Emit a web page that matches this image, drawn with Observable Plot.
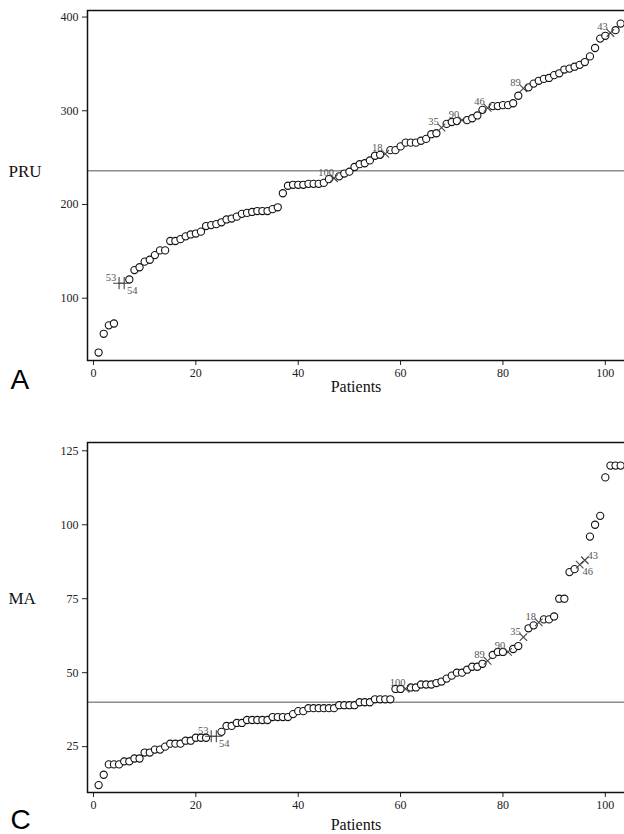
<!DOCTYPE html>
<html><head><meta charset="utf-8">
<script src="https://cdn.jsdelivr.net/npm/d3@7"></script>
<script src="https://cdn.jsdelivr.net/npm/@observablehq/plot@0.6"></script>
<style>
html,body{margin:0;padding:0;background:#fff;overflow:hidden;width:624px;height:834px}
.panel{width:640px;height:auto;line-height:0}
</style></head><body>
<div id="panelA" class="panel"></div>
<div id="panelC" class="panel"></div>
<script>
// PRU values, sorted by patient rank (1..103)
const pruValues = [42,62,71,73,116,116,120,130,133,139,141,146,151,151,161,161,163,166,168,169,
  171,177,178,179,181,184,185,187,190,191,192,193,193,193,195,197,212,220,221,221,
  221,222,222,222,223,227,228,230,233,235,240,243,244,247,252,253,254,258,258,262,
  266,266,266,268,270,275,276,282,286,288,289,290,290,292,295,301,303,305,305,306,
  306,308,316,324,325,329,332,334,335,338,340,344,345,347,349,352,358,367,377,380,
  383,386,393];
// MA values, sorted by patient rank (1..103)
const maValues = [12,15.5,19,19,19,20,20,21,21,23,23,24,24,25,26,26,26,27,27,28,
  28,28,28.5,28.5,30,32,32,33,33,34,34,34,34,34,35,35,35,35,36,37,
  37,38,38,38,38,38,38,39,39,39,39,40,40,40,41,41,41,41,44.5,44.5,
  44.5,45,45,46,46,46,46.5,47,48,49,50,50,51,52,52,53,54,56,57,57,
  57,58,59,62,65,66,67,68,68,69,75,75,84,85,86.5,88,96,100,103,116,
  120,120,120];
// labelled patients: patient number and rank position
const labelsPRU = [{patient:"53",rank:5},{patient:"54",rank:6},{patient:"100",rank:47},{patient:"18",rank:57},
  {patient:"35",rank:68},{patient:"90",rank:72},{patient:"46",rank:77},{patient:"89",rank:84},{patient:"43",rank:101}];
const labelsMA = [{patient:"53",rank:23},{patient:"54",rank:24},{patient:"100",rank:61},{patient:"89",rank:77},
  {patient:"90",rank:81},{patient:"35",rank:84},{patient:"18",rank:87},{patient:"46",rank:95},{patient:"43",rank:96}];
const xTicks = [0,20,40,60,80,100];
const pruTicks = [100,200,300,400];
const maTicks = [25,50,75,100,125];
const pruCutoff = 236;
const maCutoff = 40;

// label placement (style only)
const placeA = {"54":"dr"};
const placeC = {"54":"dr","46":"dr","43":"ur"};
const offsets = {ul:[-8,-6], dr:[8,7], ur:[8,-5]};

function panel({values, labels, place, yDomain, yTicks, cutoff, yLabel, yLabelDy, letter, letterDy, patientsDy, marginTop, height}) {
  const rows = values.map((v,i)=>({rank:i+1, value:v}));
  const marked = new Map(labels.map(d=>[d.rank,d.patient]));
  const circles = rows.filter(d=>!marked.has(d.rank));
  const crosses = rows.filter(d=>marked.has(d.rank)).map(d=>({...d, patient:marked.get(d.rank), pos: place[marked.get(d.rank)] || "ul"}));
  const plusSet = crosses.filter(d=>d.patient==="53"||d.patient==="54");
  const timesSet = crosses.filter(d=>!(d.patient==="53"||d.patient==="54"));
  const textMarks = Object.entries(offsets).map(([k,[dx,dy]]) =>
    Plot.text(crosses.filter(d=>d.pos===k), {x:"rank", y:"value", text:"patient", dx, dy, fontSize:10.5, fill:"#555", fontFamily:"Liberation Serif"}));
  return Plot.plot({
    width: 640, height, marginLeft: 87, marginRight: 5, marginTop, marginBottom: height - marginTop - 350,
    style: {fontFamily: "Liberation Serif", fontSize: "12px", color: "#222", background: "#fff"},
    x: {domain: [-1.17, 105.9], ticks: xTicks, tickSize: 5, tickPadding: 3, label: null},
    y: {domain: yDomain, ticks: yTicks, tickSize: 5, tickPadding: 4, label: null},
    marks: [
      Plot.ruleY([cutoff], {stroke: "#8c8c8c", strokeWidth: 1.6}),
      Plot.dot(circles, {x: "rank", y: "value", r: 3.6, stroke: "#111", strokeWidth: 1.1, fill: "white"}),
      Plot.dot(plusSet, {x: "rank", y: "value", symbol: "plus", r: 4, stroke: "#444", strokeWidth: 1.1}),
      Plot.dot(timesSet, {x: "rank", y: "value", symbol: "times", r: 3.5, stroke: "#444", strokeWidth: 1.1}),
      ...textMarks,
      Plot.frame({stroke: "#111", strokeWidth: 1.5}),
      Plot.text([yLabel], {frameAnchor: "left", dx: -79, dy: yLabelDy, textAnchor: "start", fontSize: 17, fill: "#111"}),
      Plot.text(["Patients"], {frameAnchor: "bottom", dx: -5.5, dy: patientsDy, fontSize: 16, fill: "#111"}),
      Plot.text([letter], {frameAnchor: "bottom-left", dx: -77, dy: letterDy, textAnchor: "start", fontSize: 28, fontFamily: "Liberation Sans", fill: "#000"})
    ]
  });
}

document.getElementById("panelA").append(panel({
  values: pruValues, labels: labelsPRU, place: placeA, yDomain: [33.5, 407], yTicks: pruTicks, cutoff: pruCutoff,
  yLabel: "PRU", yLabelDy: -14, letter: "A", letterDy: 28, patientsDy: 31, marginTop: 10, height: 400
}));
document.getElementById("panelC").append(panel({
  values: maValues, labels: labelsMA, place: placeC, yDomain: [9.5, 127.8], yTicks: maTicks, cutoff: maCutoff,
  yLabel: "MA", yLabelDy: -19, letter: "C", letterDy: 36, patientsDy: 37, marginTop: 42, height: 434
}));
</script>
</body></html>
